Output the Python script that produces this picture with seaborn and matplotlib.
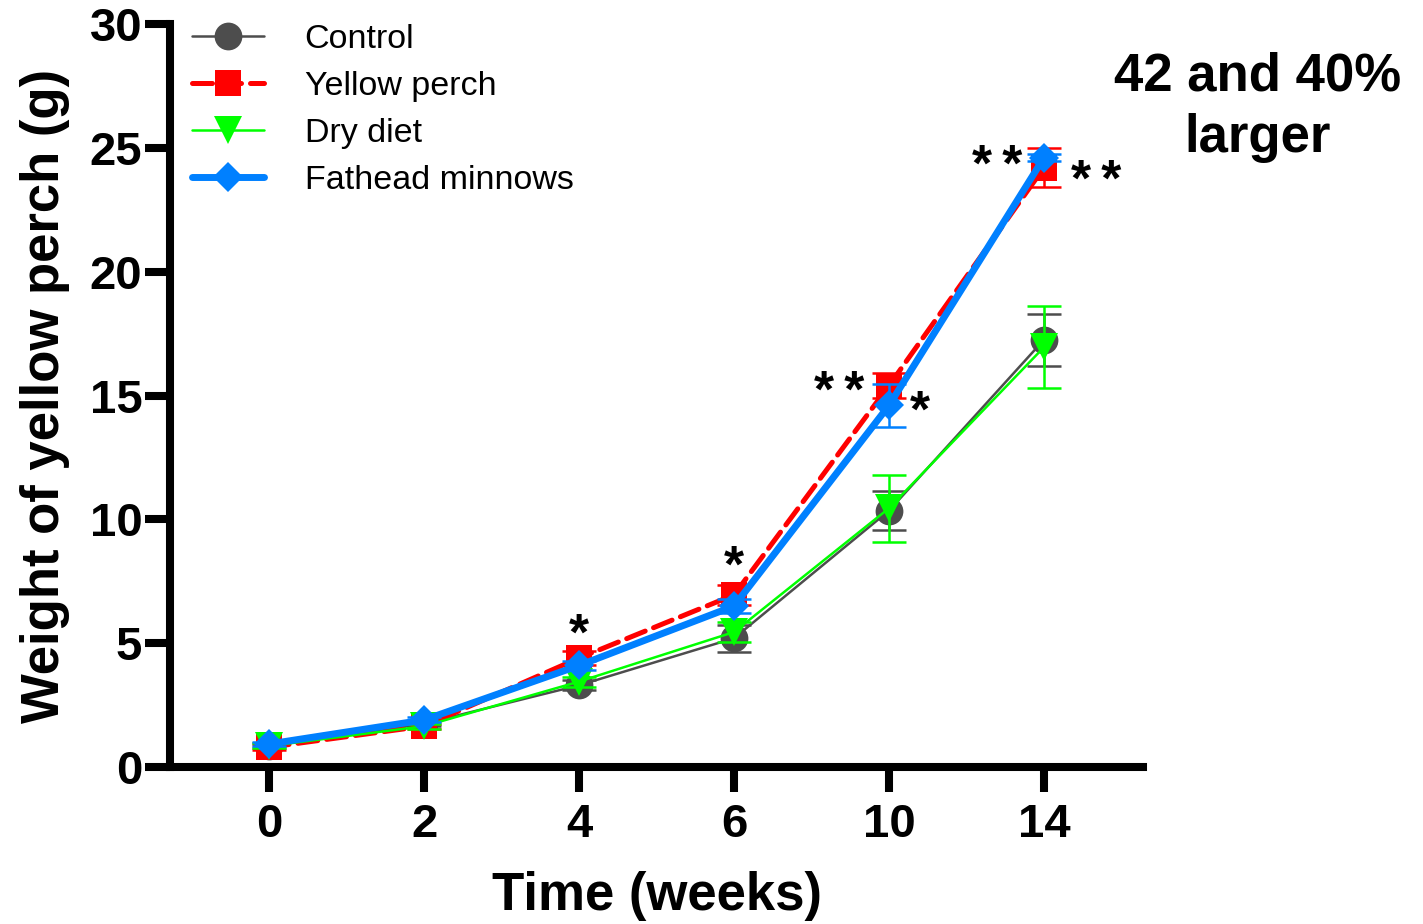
import numpy as np
import pandas as pd
import seaborn as sns
import matplotlib.pyplot as plt

sns.set_style("ticks")
plt.rcParams['font.family'] = ['Liberation Sans', 'DejaVu Sans']
plt.rcParams.update({'text.color': 'black', 'axes.labelcolor': 'black',
                     'xtick.color': 'black', 'ytick.color': 'black',
                     'axes.edgecolor': 'black'})

weeks = ['0', '2', '4', '6', '10', '14']
groups = ['Control', 'Yellow perch', 'Dry diet', 'Fathead minnows']

control = [0.85, 1.75, 3.3, 5.2, 10.35, 17.25]
control_sd = [0.1, 0.1, 0.2, 0.55, 0.8, 1.05]
perch = [0.8, 1.65, 4.4, 6.95, 15.4, 24.2]
perch_sd = [0.1, 0.1, 0.3, 0.4, 0.5, 0.8]
dry = [0.85, 1.65, 3.45, 5.45, 10.45, 16.95]
dry_sd = [0.1, 0.1, 0.2, 0.4, 1.35, 1.65]
fathead = [0.93, 1.9, 4.1, 6.5, 14.6, 24.6]
fathead_sd = [0.1, 0.1, 0.2, 0.3, 0.87, 0.15]

# significance marks: (x position, y value, text)
stars_x = [2.0, 3.0, 3.68, 4.2, 4.7, 5.34]
stars_y = [5.3, 8.05, 15.1, 14.3, 24.2, 23.6]
stars_txt = ['*', '*', '**', '*', '**', '**']

df = pd.DataFrame({
    'pos': list(range(len(weeks))) * 4,
    'week': weeks * 4,
    'weight': control + perch + dry + fathead,
    'sd': control_sd + perch_sd + dry_sd + fathead_sd,
    'group': [g for g in groups for _ in weeks],
})

style = {
    'Control': dict(color='#4d4d4d', marker='o', ms=20, lw=1.8, ls='-'),
    'Yellow perch': dict(color='#ff0000', marker='s', ms=19, lw=3.6, ls=(0, (4, 1.8))),
    'Dry diet': dict(color='#00ff00', marker='v', ms=20, lw=1.8, ls='-'),
    'Fathead minnows': dict(color='#0080ff', marker='D', ms=15, lw=5, ls='-'),
}

fig = plt.figure(figsize=(14.23, 9.24), dpi=100)
ax = fig.add_axes([0.1195, 0.1699, 0.6838, 0.8041])

for g in groups:
    sub = df[df['group'] == g]
    st = style[g]
    ax.errorbar(sub['pos'], sub['weight'], yerr=sub['sd'], fmt='none',
                ecolor=st['color'], elinewidth=1.8, capsize=12, capthick=1.8)
    sns.lineplot(data=sub, x='pos', y='weight', ax=ax, color=st['color'],
                 marker=st['marker'], markersize=st['ms'], markeredgewidth=0,
                 linewidth=st['lw'], linestyle=st['ls'], label=g,
                 dash_capstyle='round')

for x, y, t in zip(stars_x, stars_y, stars_txt):
    ax.text(x, y, '\u2009'.join(t), ha='center', va='center', fontsize=37,
            fontweight='bold', family=['Liberation Sans', 'DejaVu Sans'])

ax.set_xlim(-0.64, 5.64)
ax.set_ylim(0, 30)
ax.set_xticks(range(len(weeks)))
ax.set_xticklabels(weeks)
ax.set_yticks(np.arange(0, 31, 5))
sns.despine(ax=ax)
for s in ['left', 'bottom']:
    ax.spines[s].set_linewidth(5.8)
ax.tick_params(axis='both', width=5.8, length=18, labelsize=34)
ax.tick_params(axis='y', pad=2)
ax.tick_params(axis='x', pad=8)
for lab in ax.get_xticklabels() + ax.get_yticklabels():
    lab.set_fontweight('bold')

ax.set_xlabel('Time (weeks)', fontsize=38, fontweight='bold', labelpad=17)
ax.set_ylabel('Weight of yellow perch (g)', fontsize=38, fontweight='bold', labelpad=14)

ax.legend(loc='upper left', bbox_to_anchor=(0.023, 1.0), frameon=False,
          fontsize=24.5, handlelength=2.1, handletextpad=1.2, labelspacing=0.47,
          borderaxespad=0, borderpad=0)

fig.text(0.884, 0.884, '42 and 40%\nlarger', ha='center', va='center',
         fontsize=38, fontweight='bold', linespacing=1.3)

fig.savefig('out.png', dpi=100)
